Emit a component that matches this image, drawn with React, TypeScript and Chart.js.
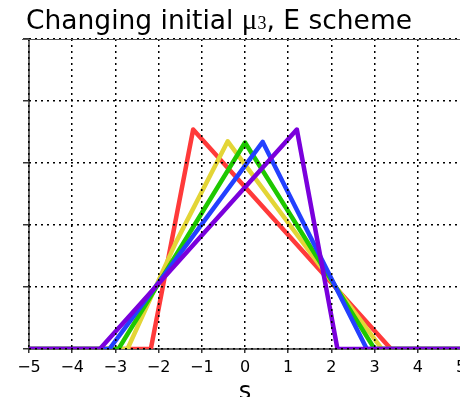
import { useEffect, useRef } from "react";
import { Chart, registerables } from "chart.js";

Chart.register(...registerables);

// x-axis tick values
const xTickValues = [-5, -4, -3, -2, -1, 0, 1, 2, 3, 4, 5];

// series (drawn in this order: purple first, red last / on top)
const purpleX = [-5, -3.36, 1.2, 2.14, 5];
const purpleY = [0, 0, 3.54, 0, 0];

const blueX = [-5, -3.14, 0.41, 2.82, 5];
const blueY = [0, 0, 3.34, 0, 0];

const greenX = [-5, -2.93, 0.0, 3.0, 5];
const greenY = [0, 0, 3.33, 0, 0];

const yellowX = [-5, -2.72, -1.6, -0.4, 3.17, 5];
const yellowY = [0, 0, 1.72, 3.35, 0, 0];

const redX = [-5, -2.18, -1.2, 3.38, 5];
const redY = [0, 0, 3.54, 0, 0];

const seriesColors = ["#7a00dc", "#2340ff", "#1ec800", "#e3d536", "#ff3a3a"];

const titleMain = "Changing initial ";
const titleMu = "\u03bc";
const titleSub = "3";
const titleRest = ", E scheme";
const xAxisTitle = "s";

function toPoints(xs: number[], ys: number[]) {
  return xs.map((x, i) => ({ x, y: ys[i] }));
}

function fmtTick(v: number) {
  return v < 0 ? "\u2212" + Math.abs(v) : String(v);
}

export default function App() {
  const ref = useRef<HTMLCanvasElement | null>(null);

  useEffect(() => {
    const canvas = ref.current;
    if (!canvas) return;

    const textPlugin = {
      id: "textPlugin",
      beforeDatasetsDraw(chart: any) {
        const ctx = chart.ctx as CanvasRenderingContext2D;
        const a = chart.chartArea;
        ctx.save();
        ctx.strokeStyle = "#333";
        ctx.lineWidth = 1.5;
        ctx.beginPath();
        ctx.moveTo(a.left, a.top);
        ctx.lineTo(a.left, a.bottom + 1);
        ctx.moveTo(a.left - 1, a.bottom);
        ctx.lineTo(chart.width, a.bottom);
        ctx.stroke();
        ctx.restore();
      },
      afterDraw(chart: any) {
        const ctx = chart.ctx as CanvasRenderingContext2D;
        const area = chart.chartArea;
        ctx.save();
        // solid top frame line
        ctx.strokeStyle = "#555";
        ctx.lineWidth = 1;
        ctx.beginPath();
        ctx.moveTo(22, area.top + 0.5);
        ctx.lineTo(chart.width, area.top + 0.5);
        ctx.stroke();

        // title
        ctx.fillStyle = "#000";
        ctx.textBaseline = "alphabetic";
        ctx.textAlign = "left";
        let x = 26;
        const base = 29;
        ctx.font = "26.5px 'DejaVu Sans'";
        ctx.fillText(titleMain, x, base);
        x += ctx.measureText(titleMain).width;
        ctx.font = "29px 'Liberation Serif'";
        ctx.fillText(titleMu, x, base);
        x += ctx.measureText(titleMu).width;
        ctx.font = "18px 'Liberation Serif'";
        ctx.fillText(titleSub, x, base);
        x += ctx.measureText(titleSub).width;
        ctx.font = "26.5px 'DejaVu Sans'";
        ctx.fillText(titleRest, x, base);

        // x-axis title
        ctx.font = "24px 'DejaVu Sans'";
        ctx.textAlign = "center";
        const xs = chart.scales.x;
        ctx.fillText(xAxisTitle, xs.getPixelForValue(0), 399);
        ctx.restore();
      },
    };

    const datasets = [
      toPoints(purpleX, purpleY),
      toPoints(blueX, blueY),
      toPoints(greenX, greenY),
      toPoints(yellowX, yellowY),
      toPoints(redX, redY),
    ].map((data, i) => ({
      data,
      borderColor: seriesColors[i],
      backgroundColor: seriesColors[i],
      borderWidth: 4.5,
      pointRadius: 0,
      tension: 0,
      fill: false,
      borderJoinStyle: "round" as const,
      borderCapStyle: "butt" as const,
    }));

    const chart = new Chart(canvas, {
      type: "line",
      data: { datasets },
      options: {
        animation: false,
        responsive: false,
        devicePixelRatio: 1,
        events: [],
        layout: { padding: { left: 0, right: 9, top: 39, bottom: 0 } },
        plugins: {
          legend: { display: false },
          tooltip: { enabled: false },
          title: { display: false },
        },
        scales: {
          x: {
            type: "linear",
            min: -5,
            max: 5,
            afterBuildTicks: (scale: any) => {
              scale.ticks = xTickValues.map((v) => ({ value: v }));
            },
            ticks: {
              color: "#000",
              font: { family: "DejaVu Sans", size: 16 },
              padding: 5,
              maxRotation: 0,
              autoSkip: false,
              callback: (v: any) => fmtTick(Number(v)),
            },
            grid: {
              color: "#000",
              lineWidth: 1.5,
              tickLength: 4,
              tickColor: "#333",
              tickWidth: 1.5,
              z: 1,
            },
            border: { display: false, dash: [2, 4] },
            afterFit: (s: any) => {
              s.height = 48;
              s.paddingLeft = 0;
              s.paddingRight = 0;
            },
          },
          y: {
            type: "linear",
            min: 0,
            max: 5,
            ticks: { display: false, stepSize: 1 },
            grid: {
              color: "#000",
              lineWidth: 1.5,
              tickLength: 6,
              tickColor: "#333",
              tickWidth: 1.5,
              z: 1,
            },
            border: { display: false, dash: [2, 4] },
            afterFit: (s: any) => {
              s.width = 29;
              s.paddingTop = 0;
              s.paddingBottom = 0;
            },
          },
        },
      },
      plugins: [textPlugin],
    } as any);

    return () => {
      chart.destroy();
    };
  }, []);

  return (
    <canvas
      ref={ref}
      width={470}
      height={397}
      style={{
        position: "fixed",
        left: 0,
        top: 0,
        width: "470px",
        height: "397px",
        display: "block",
      }}
    />
  );
}
